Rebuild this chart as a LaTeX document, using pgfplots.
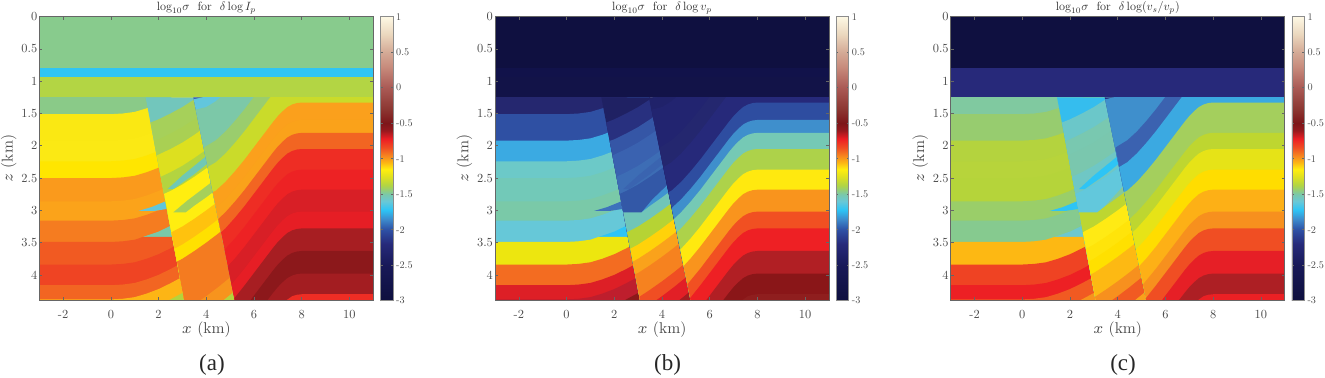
\documentclass[border=0pt]{standalone}
\usepackage{fix-cm}
\usepackage{fontspec}
\usepackage{pgfplots}
\pgfplotsset{compat=1.18}
\newfontfamily\capfont{Liberation Serif}
\newfontfamily\lmten[Extension=.otf]{lmroman10-regular}
\newcommand\C[2]{\definecolor{#1}{HTML}{#2}}
% ---- horizons: (x km, z km)
% left block
\def\Lb{(-3,1.51)(0,1.51)(0.5,1.50)(1,1.475)(1.5,1.42)(2,1.35)(2.5,1.26)(3,1.16)(3.5,1.04)}
\def\Lc{(-3,1.92)(0,1.92)(0.5,1.91)(1,1.885)(1.5,1.83)(2,1.76)(2.5,1.67)(3,1.57)(3.5,1.45)}
\def\Ld{(-3,2.24)(0,2.24)(0.5,2.23)(1,2.205)(1.5,2.15)(2,2.08)(2.5,1.99)(3,1.89)(3.5,1.77)}
\def\Le{(-3,2.5)(0,2.5)(0.5,2.49)(1,2.465)(1.5,2.41)(2,2.34)(2.5,2.25)(3,2.15)(3.5,2.03)}
\def\Lf{(-3,2.86)(0,2.86)(0.5,2.85)(1,2.825)(1.5,2.77)(2,2.70)(2.5,2.61)(3,2.51)(3.5,2.39)}
\def\Lg{(-3,3.16)(0,3.16)(0.5,3.15)(1,3.125)(1.5,3.07)(2,3.0)(2.5,2.91)(3,2.81)(3.5,2.69)}
\def\Lh{(-3,3.49)(0,3.49)(0.5,3.48)(1,3.455)(1.36,3.41)(3.5,3.41)}
\def\Li{(-3,3.84)(0,3.84)(0.5,3.83)(1,3.805)(1.5,3.75)(2,3.68)(2.5,3.59)(3,3.49)(3.5,3.37)}
\def\Lj{(-3,4.16)(0,4.16)(0.5,4.15)(1,4.125)(1.5,4.07)(2,4.0)(2.5,3.91)(3,3.81)(3.5,3.69)}
\def\Lk{(-3,4.38)(0,4.38)(0.5,4.37)(1,4.345)(1.5,4.29)(2,4.22)(2.5,4.13)(3,4.03)(3.5,3.91)}
\def\Ll{(2.39,4.4)(2.5,4.38)(3,4.28)(3.5,4.16)}
\def\LC{(3.5,4.4)(-3,4.4)}
% left slivers
\def\SlA{(1.15,3.01)(1.7,2.95)(2.5,2.83)(2.5,2.97)(1.8,3.01)}
\def\SlB{(1.36,3.41)(2,3.33)(2.5,3.24)(3,3.14)(3,3.41)}
% middle block
\def\Mb{(1.66,1.64)(2,1.59)(2.5,1.50)(3,1.40)(3.5,1.28)(4,1.15)(6,1.0)}
\def\Mc{(1.805,1.925)(2,1.90)(2.5,1.81)(3,1.71)(3.5,1.59)(4,1.46)(4.5,1.32)(6,0.9)}
\def\Md{(1.92,2.15)(2.5,2.05)(3,1.95)(3.5,1.83)(4,1.70)(4.5,1.56)(6,1.1)}
\def\Me{(2.09,2.48)(2.5,2.41)(3,2.31)(3.5,2.19)(4,2.06)(4.5,1.92)(6,1.5)}
\def\Mf{(2.23,2.745)(2.5,2.70)(3,2.60)(3.5,2.48)(4,2.35)(4.5,2.21)(6,1.8)}
\def\Mg{(2.375,3.03)(3.15,3.03)(3.5,2.93)(4,2.80)(4.5,2.66)(6,2.2)}
\def\Mh{(2.535,3.34)(3,3.25)(3.5,3.13)(4,3.0)(4.5,2.86)(5,2.71)(6,2.4)}
\def\Mi{(2.67,3.595)(3,3.53)(3.5,3.41)(4,3.28)(4.5,3.14)(5,2.99)(6,2.7)}
\def\Mj{(2.77,3.795)(3,3.75)(3.5,3.63)(4,3.5)(4.5,3.36)(5,3.21)(6,2.9)}
\def\Mk{(2.87,3.99)(3,3.97)(3.5,3.85)(4,3.72)(4.5,3.58)(5,3.43)(6,3.1)}
\def\Ml{(3.05,4.34)(3.5,4.23)(4,4.10)(4.5,3.96)(5,3.81)(6,3.5)}
\def\Mm{(3.73,4.4)(4,4.33)(4.5,4.19)(5,4.04)(6,3.7)}
\def\Mn{(4.7,4.4)(5,4.31)(6,4.0)}
\def\MC{(6,4.4)(3.08,4.4)}
% middle slivers
\def\SmA{(2.38,2.67)(3,2.46)(3.5,2.31)(4,2.16)(4.5,2.0)(4.5,2.15)(4,2.29)(3.5,2.44)(3,2.57)(2.62,2.67)}
\def\SmBa{(2.62,3.03)(3.2,2.85)(3.7,2.71)(4.2,2.57)(6,1.9)(6,3.4)(2.62,3.4)}
\def\SmBb{(3.15,3.03)(3.6,2.83)(4.25,2.6)(6,1.9)(6,3.4)(3.15,3.4)}
\def\SmBc{(3.26,3.02)(3.7,2.84)(4.25,2.62)(6,1.9)(6,3.4)(3.26,3.4)}
% right block
\def\Rb{(3.47,1.28)(4,1.235)(4.4,1.145)(4.8,1.01)(11,1.01)}
\def\Rc{(3.56,1.44)(4,1.40)(4.4,1.31)(4.8,1.175)(11,1.175)}
\def\Rd{(3.9,2.03)(4,2.005)(4.4,1.915)(4.8,1.78)(5.2,1.615)(5.6,1.435)(6,1.24)(11,1.24)}
\def\Re{(4.06,2.33)(4.4,2.255)(4.8,2.12)(5.2,1.955)(5.6,1.775)(6,1.58)(6.4,1.385)(6.8,1.19)(11,1.19)}
\def\Rf{(4.27,2.72)(4.4,2.695)(4.8,2.56)(5.2,2.395)(5.6,2.215)(6,2.02)(6.4,1.825)(6.8,1.63)(7,1.54)(7.2,1.465)(7.4,1.40)(7.6,1.36)(7.8,1.338)(8,1.33)(11,1.33)}
\def\Rg{(4.405,2.965)(4.8,2.83)(5.2,2.665)(5.6,2.485)(6,2.29)(6.4,2.095)(6.8,1.9)(7,1.81)(7.2,1.735)(7.4,1.67)(7.6,1.63)(7.8,1.608)(8,1.6)(11,1.6)}
\def\Rh{(4.5,3.135)(4.8,3.03)(5.2,2.865)(5.6,2.685)(6,2.49)(6.4,2.295)(6.8,2.1)(7,2.01)(7.2,1.935)(7.4,1.87)(7.6,1.83)(7.8,1.808)(8,1.8)(11,1.8)}
\def\Ri{(4.62,3.34)(4.8,3.28)(5.2,3.115)(5.6,2.935)(6,2.74)(6.4,2.545)(6.8,2.35)(7,2.26)(7.2,2.185)(7.4,2.12)(7.6,2.08)(7.8,2.058)(8,2.05)(11,2.05)}
\def\Rj{(4.765,3.61)(5.2,3.435)(5.6,3.255)(6,3.06)(6.4,2.865)(6.8,2.67)(7,2.58)(7.2,2.505)(7.4,2.44)(7.6,2.40)(7.8,2.378)(8,2.37)(11,2.37)}
\def\Rk{(4.9,3.865)(5.2,3.745)(5.6,3.565)(6,3.37)(6.4,3.175)(6.8,2.98)(7,2.89)(7.2,2.815)(7.4,2.75)(7.6,2.71)(7.8,2.688)(8,2.68)(11,2.68)}
\def\Rl{(5.06,4.15)(5.2,4.085)(5.6,3.905)(6,3.71)(6.4,3.515)(6.8,3.32)(7,3.23)(7.2,3.155)(7.4,3.09)(7.6,3.05)(7.8,3.028)(8,3.02)(11,3.02)}
\def\Rm{(5.18,4.36)(5.6,4.165)(6,3.97)(6.4,3.775)(6.8,3.58)(7,3.49)(7.2,3.415)(7.4,3.35)(7.6,3.31)(7.8,3.288)(8,3.28)(11,3.28)}
\def\Rn{(5.84,4.4)(6,4.32)(6.4,4.125)(6.8,3.93)(7,3.84)(7.2,3.765)(7.4,3.70)(7.6,3.66)(7.8,3.638)(8,3.63)(11,3.63)}
\def\Ro{(6.55,4.4)(6.8,4.28)(7,4.19)(7.2,4.115)(7.4,4.05)(7.6,4.01)(7.8,3.988)(8,3.98)(11,3.98)}
\def\Rp{(7.33,4.4)(7.6,4.33)(7.8,4.308)(8,4.3)(11,4.3)}
\def\RC{(11,4.4)(5.2,4.4)}
% ---- colours: panel a
\C{al1}{8ACA88}\C{al2}{FAE813}\C{al3}{FBE914}\C{al4}{FFE600}\C{al5}{FA9A1C}\C{al6}{FBA31A}
\C{al7}{F57C20}\C{al8}{F15A22}\C{al9}{EF4423}\C{al10}{F26522}\C{al11}{FDB515}\C{al12}{B5D33D}
\C{asa}{62C6DA}\C{asb}{78C9A9}
\C{am1}{72C6BC}\C{am2}{A6D05A}\C{am3}{A9D053}\C{am4}{DDE01F}\C{am5}{B3D440}\C{am6}{FFEE10}\C{am7}{FFEE10}
\C{am8}{FFC20E}\C{am9}{FFE000}\C{am10}{F47B20}\C{am11}{F47B20}\C{am12}{F47B20}\C{am13}{F7941D}\C{am14}{B5D33D}
\C{asc}{6FC8B5}\C{asd}{A6D05A}
\C{ar0}{3F5EB0}\C{ar1}{62C6DD}\C{ar2}{7CC8A8}\C{ar3}{9ACD6D}\C{ar4}{CADB2A}\C{ar5}{FBA01C}\C{ar6}{FAA21A}
\C{ar7}{F26522}\C{ar8}{EE2D24}\C{ar9}{ED2224}\C{ar10}{D81F26}\C{ar11}{E61E25}\C{ar12}{A71E22}\C{ar13}{8C181B}\C{ar14}{A31D21}\C{ar15}{EE2D24}
\C{at1}{88CB8D}\C{at2}{2FC5F4}\C{at3}{B3D544}
% panel b
\C{bl1}{25276F}\C{bl2}{2F50A3}\C{bl3}{3BAAE2}\C{bl4}{6CC9C8}\C{bl5}{72C9B8}\C{bl6}{7AC9A8}
\C{bl7}{66C8D8}\C{bl8}{EDE60F}\C{bl9}{F36C21}\C{bl10}{DD1F26}\C{bl11}{BE1E2D}\C{bl12}{8B1A1A}
\C{bsa}{3D72BC}\C{bsb}{2EC4F5}
\C{bm1}{1F2163}\C{bm2}{28307F}\C{bm3}{3556A6}\C{bm4}{3A62B0}\C{bm5}{3D6DB5}\C{bm6}{3358A7}\C{bm7}{70C5B8}
\C{bm8}{B6D334}\C{bm9}{FFD20A}\C{bm10}{FAA21B}\C{bm11}{F6821F}\C{bm12}{F04E23}\C{bm13}{E21F26}\C{bm14}{A31D21}
\C{bsc}{3A64B0}\C{bsd}{3F93D0}
\C{br0}{1F2163}\C{br1}{20226A}\C{br2}{222470}\C{br3}{24276F}\C{br4}{26297A}\C{br5}{2E4DA0}\C{br6}{3F8FCC}
\C{br7}{75C9B5}\C{br8}{ADD24A}\C{br9}{FFE90F}\C{br10}{F9941D}\C{br11}{F15022}\C{br12}{EE2024}\C{br13}{B11F24}\C{br14}{8A1618}\C{br15}{8F1E1E}
\C{bt1}{0F1040}\C{bt2}{11124A}\C{bt3}{121348}
% panel c
\C{cl1}{80C9A0}\C{cl2}{97CC6F}\C{cl3}{B4D33E}\C{cl4}{B7D43B}\C{cl5}{B5D43A}\C{cl6}{9ACE69}
\C{cl7}{86CA8F}\C{cl8}{FDB813}\C{cl9}{EF4323}\C{cl10}{ED2024}\C{cl11}{F15A22}\C{cl12}{F7941D}
\C{csa}{2EC4F5}\C{csb}{6DC8CE}
\C{cm1}{35BDEE}\C{cm2}{6BC7C9}\C{cm3}{79C8B0}\C{cm4}{7AC7AE}\C{cm5}{6FC7C5}\C{cm6}{62C8DC}\C{cm7}{BDD631}
\C{cm8}{FFEA14}\C{cm9}{FFE40A}\C{cm10}{FFE000}\C{cm11}{FDB913}\C{cm12}{F7901E}\C{cm13}{F15A22}\C{cm14}{F9A11B}
\C{csc}{2EC4F5}\C{csd}{86C99A}
\C{cr0}{26297A}\C{cr1}{3F8FCC}\C{cr2}{3F8FCC}\C{cr3}{3B62B0}\C{cr4}{3BA9E1}\C{cr5}{A4CF5D}\C{cr6}{A4CF5D}
\C{cr7}{BED630}\C{cr8}{E6E317}\C{cr9}{FFDD00}\C{cr10}{FDB016}\C{cr11}{F7901E}\C{cr12}{F04E23}\C{cr13}{E61F26}\C{cr14}{AD1F24}\C{cr15}{EB2024}
\C{ct1}{0F1040}\C{ct2}{27297A}\C{ct3}{27297A}
\C{tickgray}{4A4A4A}
\newcommand\band[2]{\edef\tmp{\noexpand\addplot[fill=#1,draw=none,forget plot] coordinates {#2} --cycle;}\tmp}
\newcommand\model[1]{%
 \band{#1l1}{(-3,1.2)(3.5,1.2)\LC}\band{#1l2}{\Lb\LC}\band{#1l3}{\Lc\LC}\band{#1l4}{\Ld\LC}%
 \band{#1l5}{\Le\LC}\band{#1l6}{\Lf\LC}\band{#1l7}{\Lg\LC}\band{#1sb}{\SlB}\band{#1l8}{\Lh\LC}%
 \band{#1l9}{\Li\LC}\band{#1l10}{\Lj\LC}\band{#1l11}{\Lk\LC}\band{#1l12}{\Ll\LC}\band{#1sa}{\SlA}%
 \band{#1m1}{(1.457,1.25)(6,1.25)\MC}\band{#1m2}{\Mb\MC}\band{#1m3}{\Mc\MC}\band{#1m4}{\Md\MC}%
 \band{#1m5}{\Me\MC}\band{#1sc}{\SmA}\band{#1m6}{\Mf\MC}%
 \band{#1sd}{\csname SmB#1\endcsname}\band{#1m7}{\Mg\MC}%
 \band{#1m8}{\Mh\MC}\band{#1m9}{\Mi\MC}\band{#1m10}{\Mj\MC}\band{#1m11}{\Mk\MC}%
 \band{#1m12}{\Ml\MC}\band{#1m13}{\Mm\MC}\band{#1m14}{\Mn\MC}%
 \band{#1r0}{(3.455,1.25)(11,1.25)\RC}\band{#1r1}{\Rb\RC}\band{#1r2}{\Rc\RC}\band{#1r3}{\Rd\RC}%
 \band{#1r4}{\Re\RC}\band{#1r5}{\Rf\RC}\band{#1r6}{\Rg\RC}\band{#1r7}{\Rh\RC}\band{#1r8}{\Ri\RC}%
 \band{#1r9}{\Rj\RC}\band{#1r10}{\Rk\RC}\band{#1r11}{\Rl\RC}\band{#1r12}{\Rm\RC}%
 \band{#1r13}{\Rn\RC}\band{#1r14}{\Ro\RC}\band{#1r15}{\Rp\RC}%
 \band{#1t1}{(-3,0)(11,0)(11,0.8)(-3,0.8)}\band{#1t2}{(-3,0.8)(11,0.8)(11,0.93)(-3,0.93)}%
 \band{#1t3}{(-3,0.93)(11,0.93)(11,1.25)(-3,1.25)}%
}
\pgfplotsset{
 colormap={seis}{
  rgb255(0)=(14,15,62) rgb255(50)=(24,25,88) rgb255(80)=(38,42,122) rgb255(100)=(46,80,165)
  rgb255(115)=(61,140,205) rgb255(128)=(45,196,245) rgb255(140)=(105,200,215) rgb255(150)=(122,200,170)
  rgb255(162)=(175,212,70) rgb255(175)=(225,225,30) rgb255(185)=(255,238,15) rgb255(195)=(252,180,20)
  rgb255(205)=(246,130,32) rgb255(215)=(240,80,35) rgb255(228)=(237,30,36) rgb255(240)=(150,25,30)
  rgb255(250)=(125,22,25) rgb255(270)=(140,55,50) rgb255(300)=(170,90,85) rgb255(330)=(200,140,125)
  rgb255(350)=(212,170,150) rgb255(375)=(235,215,190) rgb255(400)=(253,248,228)},
 every axis title shift=0pt,
 panel/.style={
  anchor=south west, scale only axis, width=167pt, height=142pt,
  xmin=-3, xmax=11, ymin=0, ymax=4.4, y dir=reverse, axis on top,
  xtick={-2,0,2,4,6,8,10}, xticklabels={-2,0,2,4,6,8,10},
  ytick={0,0.5,1,1.5,2,2.5,3,3.5,4}, yticklabels={0,0.5,1,1.5,2,2.5,3,3.5,4},
  tick align=inside, tick pos=both, major tick length=1.6pt,
  axis line style={draw=black!60, line width=0.35pt}, tick style={draw=black!60, line width=0.3pt},
  tick label style={font=\lmten\fontsize{6.2}{7}\selectfont, text=tickgray},
  xticklabel style={yshift=-1.2pt}, yticklabel style={xshift=2.5pt},
  label style={font=\lmten\fontsize{7.8}{9}\selectfont, text=tickgray},
  xlabel={$x$ (km)}, ylabel={$z$ (km)},
  xlabel style={at={(axis description cs:0.5,-0.1148)}, anchor=base},
  ylabel style={at={(axis description cs:-0.0796,0.5)}, anchor=base},
  title style={font=\lmten\fontsize{10}{12}\selectfont, text=black!80, at={(axis description cs:0.5,1.022)}, anchor=base, yshift=0pt},
  colormap name=seis, point meta min=-3, point meta max=1,
  colorbar,
  colorbar style={
   at={(parent axis.north east)}, anchor=north west, xshift=-4.9pt,
   scale only axis, width=6.2pt, height=142pt,
   ymin=-3, ymax=1,
   ytick={-3,-2.5,-2,-1.5,-1,-0.5,0,0.5,1}, yticklabels={-3,-2.5,-2,-1.5,-1,-0.5,0,0.5,1},
   tick align=inside, major tick length=1pt, yticklabel pos=right,
   axis line style={draw=black!45, line width=0.35pt}, tick style={draw=black!60, line width=0.3pt},
   tick label style={font=\lmten\fontsize{5.1}{7}\selectfont, text=tickgray, inner xsep=0.6pt},
   yticklabel style={xshift=0.8pt},
  },
 }
}
\begin{document}
\begin{tikzpicture}
\path[use as bounding box] (0,0) rectangle (662.5pt,189pt);
\begin{axis}[panel, at={(19.65pt,38.65pt)}, title={\scalebox{0.6}{$\log_{10}\!\sigma$\ \ for\ \ $\delta\log I_p$}}]
\model{a}
\end{axis}
\begin{axis}[panel, at={(247.5pt,38.65pt)}, title={\scalebox{0.6}{$\log_{10}\!\sigma$\ \ for\ \ $\delta\log v_p$}}]
\model{b}
\end{axis}
\begin{axis}[panel, at={(475.35pt,38.65pt)}, title={\scalebox{0.6}{$\log_{10}\!\sigma$\ \ for\ \ $\delta\log(v_s/v_p)$}}]
\model{c}
\end{axis}
\node[anchor=base, font=\capfont\fontsize{11.5}{13}\selectfont, text=black!85] at (106pt,3.65pt) {(a)};
\node[anchor=base, font=\capfont\fontsize{11.5}{13}\selectfont, text=black!85] at (333.8pt,3.65pt) {(b)};
\node[anchor=base, font=\capfont\fontsize{11.5}{13}\selectfont, text=black!85] at (561.5pt,3.65pt) {(c)};
\end{tikzpicture}
\end{document}
